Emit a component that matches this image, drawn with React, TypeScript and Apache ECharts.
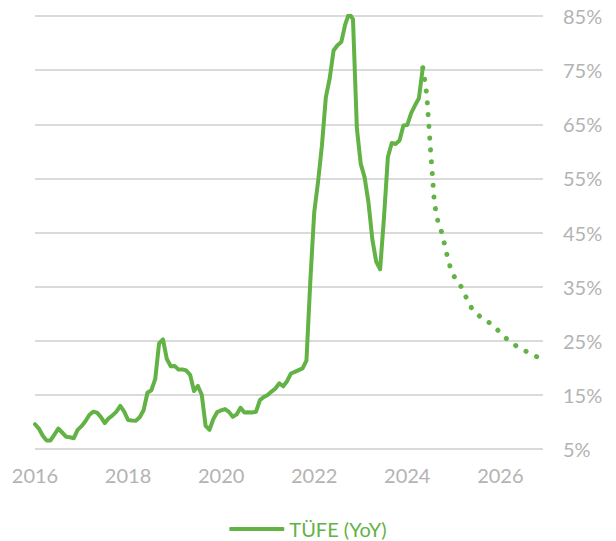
import React, { useEffect, useRef } from "react";
import * as echarts from "echarts";

// Monthly series starting Jan 2016 (index 0)
const START_YEAR = 2016;
const seriesName = "TÜFE (YoY)";
const forecastName = "TÜFE (YoY) forecast";

const cpi2016 = [9.58, 8.78, 7.46, 6.57, 6.58, 7.64, 8.79, 8.05, 7.28, 7.16, 7.0, 8.53];
const cpi2017 = [9.22, 10.13, 11.29, 11.87, 11.72, 10.9, 9.79, 10.68, 11.2, 11.9, 12.98, 11.92];
const cpi2018 = [10.35, 10.26, 10.23, 10.85, 12.15, 15.39, 15.85, 17.9, 24.52, 25.24, 21.62, 20.3];
const cpi2019 = [20.35, 19.67, 19.71, 19.5, 18.71, 15.72, 16.65, 15.01, 9.26, 8.55, 10.56, 11.84];
const cpi2020 = [12.15, 12.37, 11.86, 10.94, 11.39, 12.62, 11.76, 11.77, 11.75, 11.89, 14.03, 14.6];
const cpi2021 = [14.97, 15.61, 16.19, 17.14, 16.59, 17.53, 18.95, 19.25, 19.58, 19.89, 21.31, 36.08];
const cpi2022 = [48.69, 54.44, 61.14, 69.97, 73.5, 78.62, 79.6, 80.21, 83.45, 85.51, 84.39, 64.27];
const cpi2023 = [57.68, 55.18, 50.51, 43.68, 39.59, 38.21, 47.83, 58.94, 61.53, 61.36, 61.98, 64.77];
const cpi2024 = [64.86, 67.07, 68.5, 69.8, 75.45];

// Forecast from May 2024 to Nov 2026
const forecast = [
  75.45, 70.7, 60.3, 50.4, 46.7, 44.8, 41.5, 38.8, 37.0, 35.7, 34.9, 33.3, 31.7, 30.6, 30.0, 29.3,
  28.9, 28.4, 28.0, 27.2, 26.5, 25.8, 25.1, 24.6, 24.1, 23.7, 23.3, 22.9, 22.5, 22.2, 21.8,
];

const yTicks = [5, 15, 25, 35, 45, 55, 65, 75, 85];
const xYearLabels = [2016, 2018, 2020, 2022, 2024, 2026];

const GREEN = "#62b245";
const GREY_TEXT = "#b3b3b3";
const GRID = "#dadada";
const FONT = "Lato, 'Noto Sans', sans-serif";

export default function App() {
  const ref = useRef<HTMLDivElement>(null);

  useEffect(() => {
    if (!ref.current) return;
    const chart = echarts.init(ref.current, undefined, { renderer: "svg" });
    const actual = [
      ...cpi2016, ...cpi2017, ...cpi2018, ...cpi2019, ...cpi2020,
      ...cpi2021, ...cpi2022, ...cpi2023, ...cpi2024,
    ];
    const actualData = actual.map((v, i) => [i, v]);
    const fStart = actual.length - 1;
    const forecastData = forecast.map((v, i) => [fStart + i, v]);
    const labelSet = new Set(xYearLabels.map((y) => (y - START_YEAR) * 12));

    chart.setOption({
      animation: false,
      grid: { left: 35, right: 73, top: 16, bottom: 92 },
      legend: {
        data: [{ name: seriesName, icon: "roundRect" }],
        top: 514,
        left: "center",
        itemWidth: 55,
        itemHeight: 4,
        itemGap: 5,
        textStyle: { color: GREEN, fontSize: 20, fontFamily: FONT },
      },
      xAxis: {
        type: "value",
        min: 0,
        max: 131,
        interval: 24,
        axisLine: { show: false },
        axisTick: { show: false },
        splitLine: { show: false },
        axisLabel: {
          margin: 16,
          color: GREY_TEXT,
          fontSize: 20,
          fontFamily: FONT,
          showMaxLabel: false,
          formatter: (v: number) => (labelSet.has(v) ? String(START_YEAR + v / 12) : ""),
        },
      },
      yAxis: {
        type: "value",
        position: "right",
        min: yTicks[0],
        max: yTicks[yTicks.length - 1],
        interval: 10,
        axisLine: { show: false },
        axisTick: { show: false },
        splitLine: { lineStyle: { color: GRID, width: 2 } },
        axisLabel: {
          margin: 20,
          color: GREY_TEXT,
          fontSize: 20,
          fontFamily: FONT,
          formatter: "{value}%",
        },
      },
      series: [
        {
          name: forecastName,
          type: "line",
          data: forecastData,
          showSymbol: false,
          symbol: "none",
          lineStyle: { color: GREEN, width: 5, type: [0.1, 11.7], cap: "round" },
          itemStyle: { color: GREEN },
          z: 2,
        },
        {
          name: seriesName,
          type: "line",
          data: actualData,
          showSymbol: false,
          symbol: "none",
          lineStyle: { color: GREEN, width: 4, join: "round", cap: "round" },
          itemStyle: { color: GREEN },
          z: 3,
        },
      ],
    });
    return () => chart.dispose();
  }, []);

  return (
    <div
      ref={ref}
      style={{ position: "fixed", left: 0, top: 0, width: 616, height: 541, background: "#fff" }}
    />
  );
}
